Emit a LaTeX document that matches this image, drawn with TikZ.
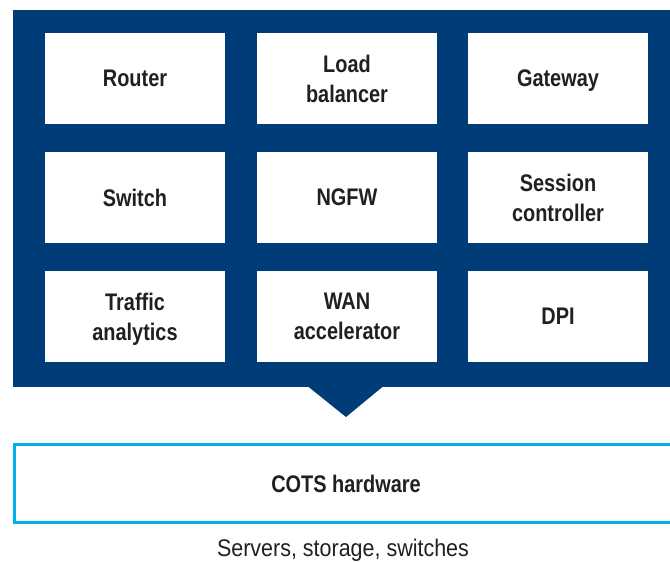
\documentclass[tikz,border=0pt]{standalone}
\usepackage{fontspec}
\setmainfont[FakeStretch=0.895]{Liberation Sans}
\newfontfamily\cellfont[FakeStretch=0.83]{Liberation Sans Bold}
\definecolor{navy}{RGB}{0,60,120}
\definecolor{cyanline}{RGB}{0,174,239}
\definecolor{ink}{RGB}{35,31,32}
\tikzset{
  cell/.style={fill=white,minimum width=180pt,minimum height=91pt,inner sep=0pt,
    align=center,text=ink,text depth=0pt,font=\cellfont\fontsize{24}{30}\selectfont},
  hwbox/.style={draw=cyanline,line width=3pt,minimum width=663pt,minimum height=78pt,
    inner sep=0pt,text=ink,text depth=0pt,font=\cellfont\fontsize{24}{30}\selectfont}
}
\begin{document}
\begin{tikzpicture}[x=1pt,y=1pt]
\useasboundingbox (0,0) rectangle (670,562);
% blue panel with pointer
\fill[navy] (13,175) rectangle (690,552);
\fill[navy] (308,175.5) -- (383,175.5) -- (346,145) -- cycle;
\foreach \n/\x/\y/\t in {R/135/483.5/Router, L/347/483.5/{Load\\balancer}, G/558/483.5/Gateway,
  S/135/364.5/Switch, N/347/364.5/NGFW, C/558/364.5/{Session\\controller},
  T/135/245.5/{Traffic\\analytics}, W/347/245.5/{WAN\\accelerator}, D/558/245.5/DPI} {
  \node[cell] (\n) at (\x,\y) {\t};
}
\node[hwbox] (H) at (346,78.5) {COTS hardware};
\node[anchor=base,inner sep=0pt,text=ink,font=\fontsize{24}{30}\selectfont] (V) at (343,5.5) {Servers, storage, switches};
\end{tikzpicture}
\end{document}
